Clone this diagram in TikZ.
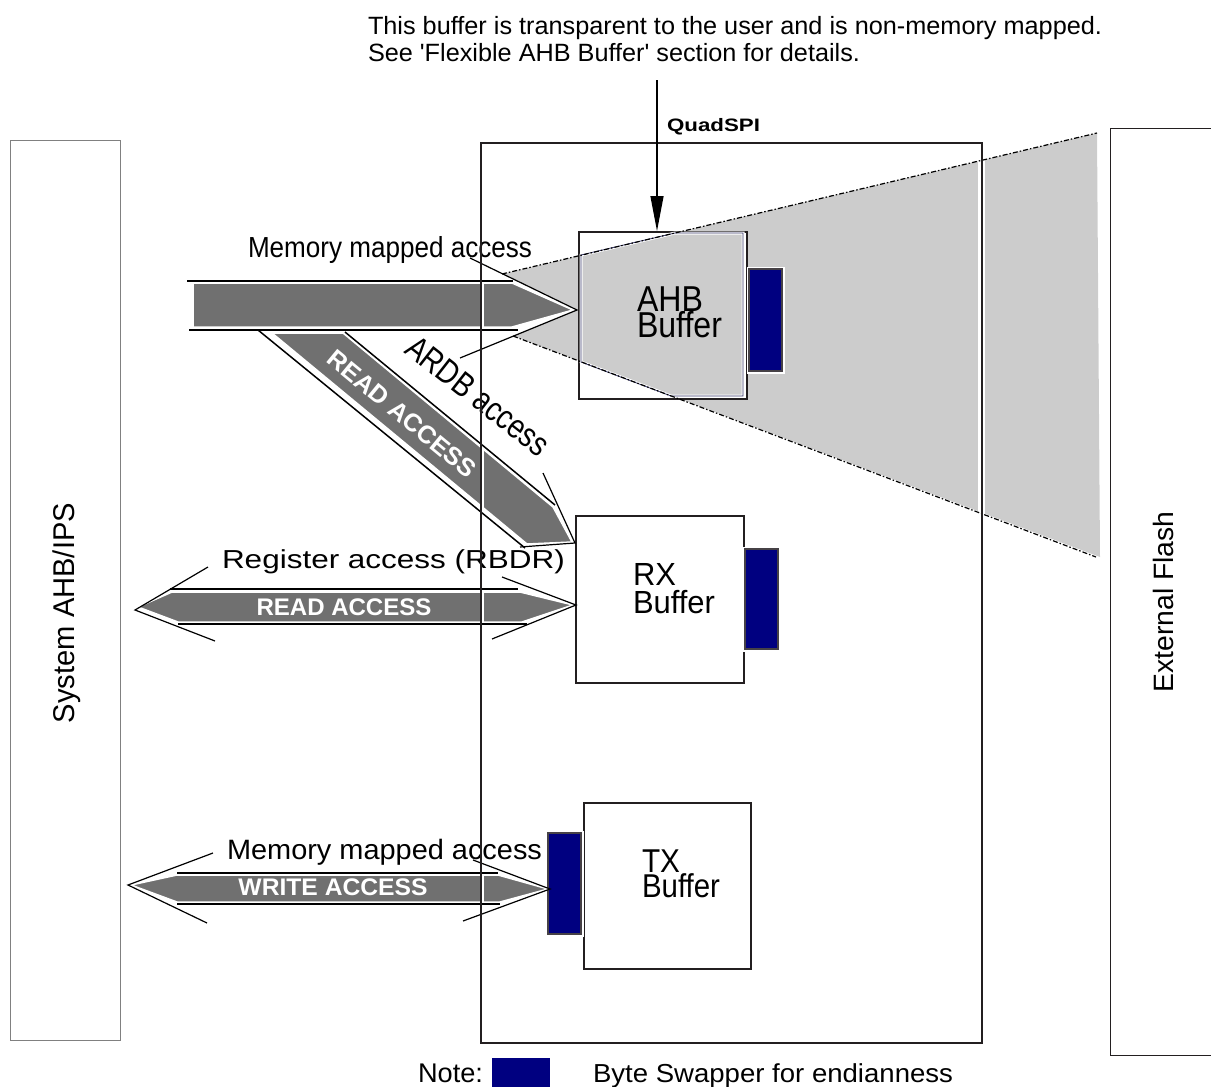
\documentclass[tikz,border=0pt]{standalone}
\usepackage{fontspec}
\setmainfont{Liberation Sans}
\usetikzlibrary{arrows.meta}
\definecolor{navyfill}{RGB}{0,0,128}
\definecolor{arrowgray}{RGB}{112,112,112}
\definecolor{lightg}{RGB}{204,204,204}
\definecolor{boxline}{RGB}{35,31,32}
\definecolor{edgeblue}{RGB}{60,60,110}
\definecolor{swapedge}{RGB}{70,65,70}
\newcommand{\fitt}[3]{\resizebox{#2pt}{\height}{\fontsize{#1pt}{#1pt}\selectfont #3}}
\begin{document}
\begin{tikzpicture}[x=1pt,y=-1pt,
  lbl/.style={inner sep=0pt, outer sep=0pt},
  boxst/.style={draw=boxline, line width=1.5pt, fill=white, inner sep=0pt, anchor=north west},
  sidebox/.style={draw=gray, line width=1.2pt, inner sep=0pt, anchor=north west},
  swap/.style={fill=navyfill, draw=swapedge, line width=2pt, inner sep=0pt, anchor=north west,
               preaction={draw=white, line width=5pt}},
  afill/.style={fill=arrowgray, draw=white, line width=1.5pt, line join=round},
  aline/.style={draw=black, line width=1.5pt},
  barb/.style={draw=black, line width=1.2pt},
  dashd/.style={draw=black, line width=1.2pt, dash pattern=on 5pt off 2pt on 1.5pt off 2pt}]
\useasboundingbox (0,0) rectangle (1211,1087);
\clip (0,0) rectangle (1211,1087);

% side boxes
\node[sidebox, minimum width=110pt, minimum height=900pt] (sys) at (10,140) {};
\node[sidebox, draw=boxline, minimum width=130pt, minimum height=927pt] (flash) at (1110,128) {};
\node[lbl, rotate=90] (syslbl) at (67,613) {\fitt{30}{220}{System AHB/IPS}};
\node[lbl, rotate=90] (flashlbl) at (1163,602) {\fitt{28}{181}{External Flash}};

% gray funnel
\fill[lightg] (502,274) -- (1097,133) -- (1100,557) -- (513,336) -- (578,310) -- cycle;
\draw[white, line width=7pt] (981,150) -- (981,525);

% AHB buffer
\node[boxst, minimum width=168pt, minimum height=167pt] (ahb) at (578,231) {};
\path[fill=lightg, draw=white, line width=3pt] (581,255) -- (675,233) -- (743,233) -- (743,396) -- (671,396) -- (581,362) -- cycle;
\draw[edgeblue, line width=0.8pt] (581,255) -- (675,233) -- (743,233) -- (743,396) -- (671,396) -- (581,362) -- cycle;
\node[swap, minimum width=33pt, minimum height=102pt] (swapA) at (748,268) {};
\node[lbl, anchor=base west] (ahbt1) at (637,311) {\fitt{36}{66}{AHB}};
\node[lbl, anchor=base west] (ahbt2) at (637,337) {\fitt{36}{85}{Buffer}};

% dash-dot edges of the funnel
\draw[dashd] (502,274) -- (1097,133);
\draw[dashd] (513,336) -- (1096,557);

% RX and TX buffers
\node[boxst, minimum width=168pt, minimum height=167pt] (rx) at (575,515) {};
\node[swap, minimum width=33pt, minimum height=100pt] (swapR) at (744,548) {};
\node[lbl, anchor=base west] (rxt1) at (633,585) {\fitt{32}{43}{RX}};
\node[lbl, anchor=base west] (rxt2) at (633,613) {\fitt{32}{82}{Buffer}};

\node[boxst, minimum width=167pt, minimum height=166pt] (tx) at (583,802) {};
\node[swap, minimum width=33pt, minimum height=101pt] (swapT) at (547,832) {};
\node[lbl, anchor=base west] (txt1) at (642,872) {\fitt{33}{38}{TX}};
\node[lbl, anchor=base west] (txt2) at (642,897) {\fitt{33}{78}{Buffer}};

% diagonal READ ACCESS arrow (ARDB)
\path[afill] (272,333) -- (343,333) -- (553,507) -- (572,542) -- (527,544) -- cycle;
\draw[aline] (258,330) -- (525,548);
\draw[aline] (345,332) -- (555,505);
\draw[barb] (543,473) -- (575,543) -- (520,547);

% horizontal arrow to AHB buffer
\path[afill] (193,283) -- (512,283) -- (573,310) -- (512,327) -- (193,327) -- cycle;
\draw[aline] (187,281) -- (513,281);
\draw[aline] (189,330) -- (518,330);
\draw[barb] (470,258) -- (577,310) -- (460,358);

% RX double arrow
\path[afill] (138,607) -- (172,592) -- (520,592) -- (573,605) -- (522,622) -- (178,622) -- cycle;
\draw[aline] (170,589) -- (518,589);
\draw[aline] (178,624) -- (527,624);
\draw[barb] (208,567) -- (135,610) -- (215,641);
\draw[barb] (502,577) -- (576,605) -- (492,639);

% TX double arrow
\path[afill] (131,885) -- (177,875) -- (498,875) -- (548,889) -- (500,902) -- (177,902) -- cycle;
\draw[aline] (177,873) -- (498,873);
\draw[aline] (177,904) -- (500,904);
\draw[barb] (213,853) -- (128,885) -- (207,923);
\draw[barb] (473,860) -- (550,889) -- (463,921);

% arrow labels
\node[lbl] (ardb) at (478,396) [rotate=-38] {\fitt{34}{172}{ARDB access}};
\node[lbl, text=white] (rd1) at (402,414) [rotate=-39.5] {\fitt{25}{185}{\bfseries READ ACCESS}};
\node[lbl, text=white] (rd2) at (344,607) {\fitt{24}{175}{\bfseries READ ACCESS}};
\node[lbl, text=white] (wr) at (333,887) {\fitt{24}{189}{\bfseries WRITE ACCESS}};
\node[lbl, anchor=base west] (mma1) at (248,257) {\fitt{29}{284}{Memory mapped access}};
\node[lbl, anchor=base west] (rega) at (222,568) {\fitt{26}{343}{Register access (RBDR)}};
\node[lbl, anchor=base west] (mma2) at (227,859) {\fitt{28}{315}{Memory mapped access}};

% QuadSPI block outline
\draw[white, line width=2pt] (483,283) -- (483,327) (483,449) -- (483,507) (483,592) -- (483,622) (483,875) -- (483,902);
\node[draw=boxline, line width=1.5pt, inner sep=0pt, anchor=north west, minimum width=501pt, minimum height=900pt] (qspi) at (480,142) {};
\node[lbl, anchor=base west] (qlbl) at (667,131) {\fitt{18}{93}{\bfseries QuadSPI}};

% top note and pointer
\node[lbl, anchor=base west] (t1) at (368,34) {\fitt{25}{734}{This buffer is transparent to the user and is non-memory mapped.}};
\node[lbl, anchor=base west] (t2) at (368,61) {\fitt{25}{492}{See \textquotesingle Flexible AHB Buffer\textquotesingle{} section for details.}};
\coordinate (ptr) at (657,80);
\draw[line width=1.3pt, -{Triangle[length=35pt,width=13pt]}] (ptr) -- (ptr |- ahb.north);

% legend
\node[lbl, anchor=base west] (note) at (418,1082) {\fitt{27}{65}{Note:}};
\node[fill=navyfill, inner sep=0pt, anchor=north west, minimum width=58pt, minimum height=40pt] (legsw) at (492,1058) {};
\node[lbl, anchor=base west] (legt) at (593,1082) {\fitt{26}{360}{Byte Swapper for endianness}};
\end{tikzpicture}
\end{document}
